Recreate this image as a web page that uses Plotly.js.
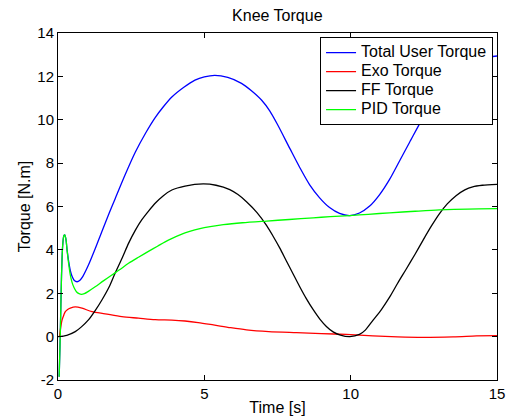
<!DOCTYPE html>
<html>
<head>
<meta charset="utf-8">
<script src="https://cdn.plot.ly/plotly-3.0.1.min.js"></script>
<style>html,body{margin:0;padding:0;background:#fff;}#chart{width:507px;height:418px;}</style>
</head>
<body>
<div id="chart"></div>
<script>
// Total User Torque (blue)
const tTotal = [0.04, 0.08, 0.12, 0.16, 0.2, 0.23, 0.27, 0.31, 0.36, 0.42, 0.48, 0.55, 0.65, 0.75, 0.85, 1.04, 1.27, 1.5, 1.75, 1.95, 2.29, 2.64, 3.0, 3.32, 3.6, 3.89, 4.3, 4.68, 5.0, 5.36, 5.8, 6.27, 6.6, 6.96, 7.24, 7.5, 7.92, 8.26, 8.6, 8.94, 9.28, 9.62, 9.97, 10.3, 10.65, 10.99, 11.33, 11.67, 12.01, 12.47, 13.03, 13.6, 14.2, 15.0];
const vTotal = [-1.85, 0.2, 2.8, 4.2, 4.65, 4.69, 4.5, 4.0, 3.5, 3.05, 2.78, 2.6, 2.53, 2.6, 2.78, 3.3, 4.05, 4.85, 5.7, 6.35, 7.45, 8.5, 9.4, 10.1, 10.6, 11.05, 11.5, 11.83, 11.98, 12.05, 11.95, 11.68, 11.35, 10.9, 10.4, 9.78, 8.68, 7.8, 7.0, 6.4, 5.95, 5.68, 5.58, 5.7, 6.02, 6.55, 7.25, 8.1, 8.95, 10.1, 11.4, 12.3, 12.75, 12.94];
// Exo Torque (red)
const tExo = [0.05, 0.1, 0.14, 0.2, 0.25, 0.33, 0.42, 0.59, 0.82, 1.16, 1.61, 2.18, 2.75, 3.32, 3.89, 4.34, 4.79, 5.31, 5.9, 6.44, 7.2, 8.15, 9.0, 9.85, 10.76, 11.6, 12.47, 13.5, 14.3, 15.0];
const vExo = [0.0, 0.5, 0.77, 1.0, 1.15, 1.25, 1.31, 1.37, 1.31, 1.15, 1.05, 0.92, 0.85, 0.78, 0.76, 0.72, 0.65, 0.54, 0.41, 0.31, 0.23, 0.18, 0.14, 0.1, 0.03, -0.01, -0.03, -0.01, 0.03, 0.05];
// FF Torque (black)
const tFF = [0.0, 0.3, 0.59, 0.8, 1.04, 1.27, 1.5, 1.75, 1.95, 2.2, 2.41, 2.64, 2.86, 3.1, 3.32, 3.6, 3.89, 4.34, 4.96, 5.4, 5.87, 6.15, 6.44, 6.8, 7.13, 7.35, 7.58, 7.8, 8.03, 8.26, 8.49, 8.72, 8.94, 9.17, 9.4, 9.65, 9.97, 10.3, 10.5, 10.76, 11.05, 11.33, 11.6, 11.9, 12.2, 12.47, 12.75, 13.03, 13.3, 13.6, 13.9, 14.17, 14.5, 15.0];
const vFF = [0.0, 0.06, 0.23, 0.45, 0.77, 1.2, 1.69, 2.3, 2.92, 3.65, 4.3, 4.9, 5.38, 5.8, 6.15, 6.5, 6.76, 6.94, 7.04, 6.98, 6.78, 6.55, 6.22, 5.72, 5.12, 4.63, 4.08, 3.5, 2.9, 2.3, 1.74, 1.24, 0.82, 0.47, 0.22, 0.07, 0.0, 0.1, 0.3, 0.75, 1.25, 1.82, 2.45, 3.12, 3.8, 4.44, 5.08, 5.66, 6.12, 6.5, 6.77, 6.91, 6.98, 7.02];
// PID Torque (green)
const tPID = [0.04, 0.08, 0.12, 0.16, 0.2, 0.23, 0.27, 0.31, 0.36, 0.42, 0.48, 0.55, 0.63, 0.72, 0.8, 0.9, 1.05, 1.27, 1.55, 1.84, 2.1, 2.41, 2.75, 3.09, 3.4, 3.66, 3.9, 4.17, 4.5, 4.85, 5.2, 5.65, 6.3, 7.13, 7.9, 8.72, 9.3, 9.97, 10.6, 11.33, 12.2, 13.03, 14.0, 15.0];
const vPID = [-1.85, 0.2, 2.8, 4.2, 4.65, 4.69, 4.5, 4.0, 3.4, 2.85, 2.5, 2.25, 2.07, 1.98, 1.95, 1.98, 2.1, 2.3, 2.57, 2.84, 3.08, 3.38, 3.66, 3.93, 4.17, 4.37, 4.53, 4.69, 4.85, 4.98, 5.07, 5.16, 5.25, 5.33, 5.4, 5.48, 5.53, 5.58, 5.64, 5.71, 5.78, 5.84, 5.88, 5.9];

const seriesNames = ['Total User Torque', 'Exo Torque', 'FF Torque', 'PID Torque'];
const xTicks = [0, 5, 10, 15];
const yTicks = [-2, 0, 2, 4, 6, 8, 10, 12, 14];

const FONT = 'Liberation Sans, Arial, Helvetica, sans-serif';
const TXT = 16;
const legendName = n => '<span style="font-size:16px">' + n + '</span>';
const mk = (x, y, name, color) => ({
  x: x, y: y, name: legendName(name), type: 'scatter', mode: 'lines',
  line: {color: color, width: 1.3, shape: 'spline', smoothing: 0.8}
});
const data = [
  mk(tTotal, vTotal, seriesNames[0], '#0000ff'),
  mk(tExo, vExo, seriesNames[1], '#ff0000'),
  mk(tFF, vFF, seriesNames[2], '#000000'),
  mk(tPID, vPID, seriesNames[3], '#00ff00')
];
const axisCommon = {
  showline: true, linecolor: '#000', linewidth: 1, mirror: 'allticks',
  ticks: 'inside', ticklen: 5, tickwidth: 1, tickcolor: '#000',
  showgrid: false, zeroline: false,
  tickfont: {family: FONT, size: 15, color: '#000'}
};
const layout = {
  width: 507, height: 418,
  margin: {l: 58, r: 10, t: 33, b: 38},
  paper_bgcolor: '#fff', plot_bgcolor: '#fff',
  font: {family: FONT, size: TXT, color: '#000'},
  title: {text: 'Knee Torque', x: 0.547, xanchor: 'center', y: 0.962, yanchor: 'middle',
          font: {family: FONT, size: TXT, color: '#000'}},
  xaxis: Object.assign({}, axisCommon, {
    range: [0, 15], tickvals: xTicks, ticktext: xTicks.map(String),
    title: {text: 'Time [s]', standoff: 0, font: {family: FONT, size: TXT, color: '#000'}}
  }),
  yaxis: Object.assign({}, axisCommon, {
    range: [-2, 14], tickvals: yTicks, ticktext: yTicks.map(String),
    title: {text: 'Torque [N.m]', standoff: 2, font: {family: FONT, size: TXT, color: '#000'}}
  }),
  showlegend: true,
  legend: {
    x: 0.991, y: 0.988, xanchor: 'right', yanchor: 'top',
    bgcolor: '#fff', bordercolor: '#000', borderwidth: 1,
    font: {family: FONT, size: 12, color: '#000'},
    itemwidth: 30, tracegroupgap: 0
  }
};
Plotly.newPlot('chart', data, layout, {displayModeBar: false, staticPlot: true});
</script>
</body>
</html>
